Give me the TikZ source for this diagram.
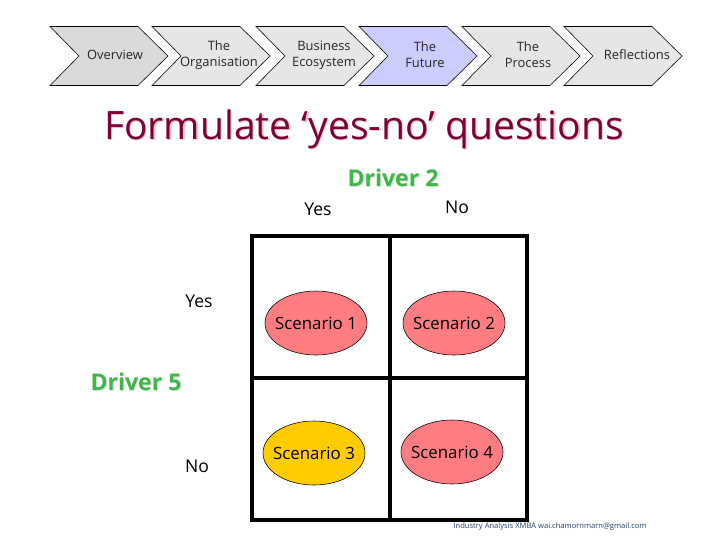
\documentclass[tikz,border=0pt]{standalone}
\usepackage{fontspec}
\setmainfont{Open Sans}
\usepackage{xcolor}
\usetikzlibrary{shapes.geometric}
\definecolor{titlered}{HTML}{800035}
\definecolor{titleshade}{HTML}{E3C4D0}
\definecolor{drivergreen}{HTML}{3FB54A}
\definecolor{drivershade}{HTML}{CFE8D2}
\definecolor{scenred}{HTML}{FF7C80}
\definecolor{scenyellow}{HTML}{FFCC00}
\definecolor{stepgrey}{HTML}{E6E6E6}
\definecolor{stepdark}{HTML}{DADADA}
\definecolor{stepblue}{HTML}{CCCCFF}
\definecolor{footblue}{HTML}{1F3F6F}
\tikzset{
	steptext/.style={font=\fontsize{9.2}{11.4}\selectfont, align=center, text=black!85},
	scen/.style={ellipse, draw, thin, minimum width=102*0.025cm, minimum height=64*0.025cm, inner xsep=-5pt, inner ysep=0pt, font=\fontsize{12}{14}\selectfont},
	answer/.style={font=\fontsize{12.5}{14}\selectfont},
	driver/.style={font=\fontsize{16.4}{18}\selectfont\bfseries}
}
\begin{document}
\begin{tikzpicture}[x=0.025cm, y=-0.025cm]
	\useasboundingbox (0,0) rectangle (720,540);
	% process chevrons
	\foreach \x/\col/\tx/\lab in {50/stepdark/115/Overview, 152/stepgrey/219/The\\Organisation, 256/stepgrey/324/Business\\Ecosystem, 359/stepblue/425/The\\Future, 462/stepgrey/528/The\\Process, 564/stepgrey/637/Reflections}
	{
		\draw [fill=\col, thin] (\x,26.5) -- ++(88,0) -- ++(30,29.5) -- ++(-30,29.5) -- ++(-88,0) -- ++(29,-29.5) -- cycle;
		\node [steptext] (step\x) at (\tx,55) {\lab};
	}
	% title and drivers
	\node [font=\fontsize{27.8}{31}\selectfont, text=titleshade] (titleshadow) at (365.5,130.5) {Formulate ‘yes-no’ questions};
	\node [font=\fontsize{27.8}{31}\selectfont, text=titlered] (title) at (364,129) {Formulate ‘yes-no’ questions};
	\node [driver, text=drivershade] (drvtwoshadow) at (394,179) {Driver 2};
	\node [driver, text=drivergreen] (drvtwo) at (393,178) {Driver 2};
	\node [driver, text=drivershade] (drvfiveshadow) at (137,383) {Driver 5};
	\node [driver, text=drivergreen] (drvfive) at (136,382) {Driver 5};
	\node [answer] (yestop) at (318,209) {Yes};
	\node [answer] (notop) at (457,207) {No};
	\node [answer] (yesleft) at (199,301) {Yes};
	\node [answer] (noleft) at (197,466) {No};
	% the matrix
	\draw [line width=2.2pt, line join=miter] (252,236) rectangle (527,520);
	\draw [line width=2.2pt] (390,236) -- (390,520);
	\draw [line width=2.2pt] (252,378) -- (527,378);
	\node [scen, fill=scenred] (scen1) at (316,323) {Scenario 1};
	\node [scen, fill=scenred] (scen2) at (454,323) {Scenario 2};
	\node [scen, fill=scenyellow] (scen3) at (314,453) {Scenario 3};
	\node [scen, fill=scenred] (scen4) at (452,452) {Scenario 4};
	\node [font=\fontsize{5.4}{6}\selectfont, text=footblue] (foot) at (550,527) {Industry Analysis XMBA wai.chamornmarn@gmail.com};
\end{tikzpicture}
\end{document}
